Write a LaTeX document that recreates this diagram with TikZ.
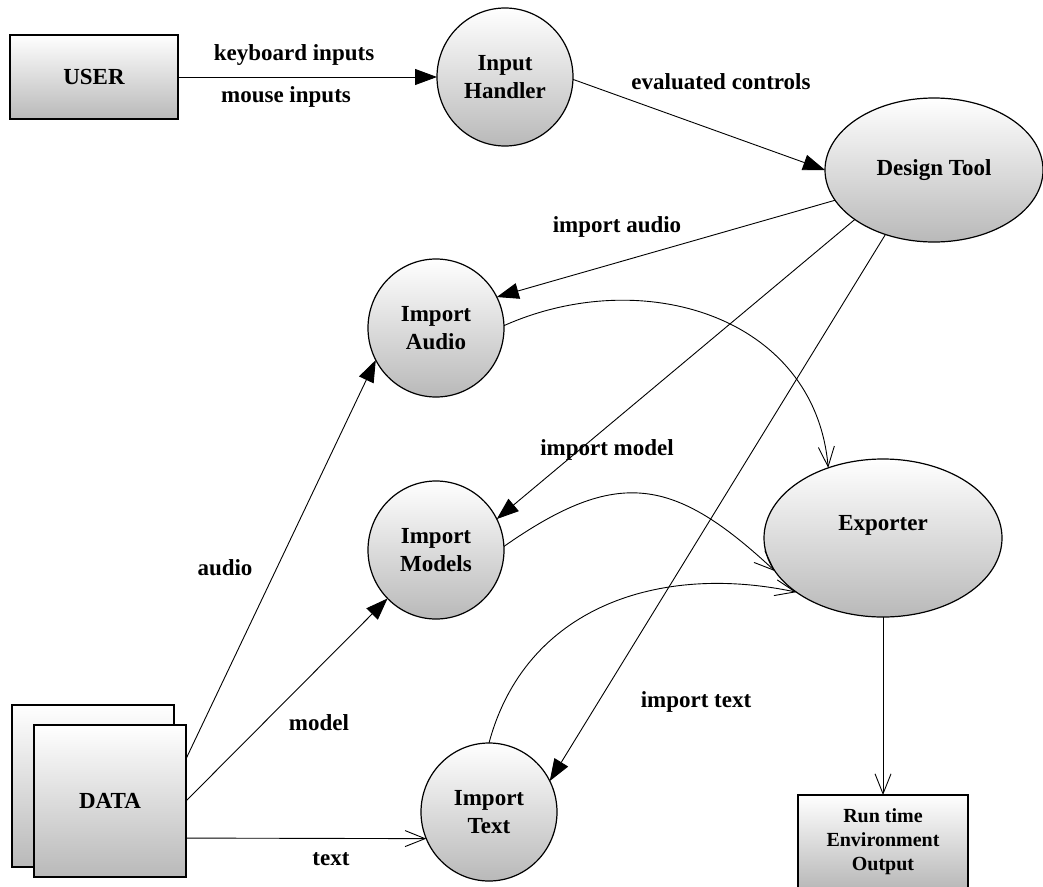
\documentclass[tikz,border=0pt]{standalone}
\usepackage{fontspec}
\setmainfont{Liberation Serif}
\usetikzlibrary{arrows.meta,shapes.geometric}
\newcommand\dfdfont{\fontsize{23}{28}\selectfont\bfseries}
\newcommand\dfdsmall{\fontsize{20}{24}\selectfont\bfseries}
\begin{document}
\begin{tikzpicture}[x=1pt,y=1pt,
  shade/.style={top color=white, bottom color=gray!55},
  proc/.style={ellipse, draw=black, line width=1.2pt, shade, inner sep=0pt, outer sep=0pt, align=center, font=\dfdfont},
  ent/.style={rectangle, draw=black, line width=1.2pt, shade, inner sep=0pt, outer sep=0pt, align=center, font=\dfdfont},
  lab/.style={font=\dfdfont, inner sep=0pt},
  flow/.style={line width=0.9pt, -{Triangle[length=22pt,width=16pt]}},
  oflow/.style={line width=0.9pt, -{Straight Barb[length=20pt,width=16pt]}}]
\useasboundingbox (0,0) rectangle (1043,-886);
\clip (0,0) rectangle (1043,-886);
\fill[white] (0,0) rectangle (1043,-886);

% nodes
\node[ent, minimum width=168pt, minimum height=84pt] (user) at (94,-77) {USER};
\node[proc, minimum width=136pt, minimum height=138pt] (ih) at (505,-77) {Input\\Handler};
\node[proc, minimum width=218pt, minimum height=144pt] (dt) at (934,-170) {Design Tool};
\node[proc, minimum width=136pt, minimum height=138pt] (ia) at (436,-328) {Import\\Audio};
\node[proc, minimum width=136pt, minimum height=138pt] (im) at (436,-550) {Import\\Models};
\node[proc, minimum width=136pt, minimum height=138pt] (it) at (489,-812) {Import\\Text};
\node[proc, minimum width=238pt, minimum height=158pt] (ex) at (883,-538) {};
\node[lab] (extext) at (883,-525) {Exporter};
\node[ent, minimum width=162pt, minimum height=162pt] (databack) at (93,-786) {};
\node[ent, minimum width=152pt, minimum height=152pt] (data) at (110,-801) {DATA};
\node[ent, minimum width=170pt, minimum height=93pt, font=\dfdsmall] (rt) at (883,-841.5) {Run time\\Environment\\Output};

% connectors
\draw[flow] (user.east) -- (ih.west);
\draw[flow] (ih.-2) -- (dt.west);
\draw[flow] (dt.197.6) -- (ia.27);
\draw[flow] (dt.212) -- (im.27);
\draw[flow] (dt.233) -- (it.27);
\draw[flow] (data.29.5) -- (ia.208);
\draw[flow] (data.east) -- (im.225);
\draw[oflow] (data.-26.6) -- (it.203.4);
\draw[oflow] (ia.2) to[out=24,in=95,looseness=1.1] (ex.128);
\draw[oflow] (im.3) to[out=35,in=137,looseness=1.3] (ex.197);
\draw[oflow] (it.north) to[out=75,in=168,looseness=1.05] (ex.212);
\draw[oflow] (ex.south) -- (rt.north);

% labels
\node[lab] (l1) at (294,-55) {keyboard inputs};
\node[lab] (l2) at (286,-97) {mouse inputs};
\node[lab] (l3) at (721,-82) {evaluated controls};
\node[lab] (l4) at (617,-227) {import audio};
\node[lab] (l5) at (607,-450) {import model};
\node[lab] (l6) at (225,-568) {audio};
\node[lab] (l7) at (319,-723) {model};
\node[lab] (l8) at (331,-859) {text};
\node[lab] (l9) at (696,-702) {import text};
\end{tikzpicture}
\end{document}
